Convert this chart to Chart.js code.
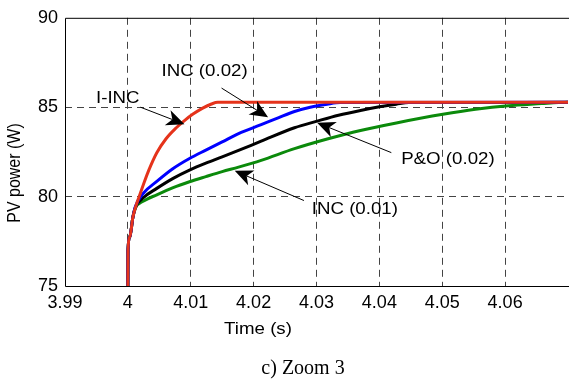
<!DOCTYPE html>
<html>
<head>
<meta charset="utf-8">
<script src="https://cdn.jsdelivr.net/npm/chart.js@4/dist/chart.umd.min.js"></script>
<style>
  html, body { margin: 0; padding: 0; background: #fff; }
  canvas { display: block; }
</style>
</head>
<body>
<canvas id="zoomChart" width="574" height="383"></canvas>
<script>
// Axis ranges (time in s, power in W)
const tidMin = 3.99;
const tidMax = 4.07;
const tidSteg = 0.01;
const effektTicks = [75, 80, 85, 90];

// I-INC
const iincTid = [4.0, 4.00002, 4.0003, 4.0008, 4.0013, 4.0019, 4.0026, 4.0033, 4.0046, 4.0061, 4.0077, 4.009, 4.0103, 4.0119, 4.0133, 4.0143, 4.07];
const iincEffekt = [75, 77.0, 77.75, 78.85, 79.5, 80.1, 80.8, 81.45, 82.45, 83.25, 83.85, 84.25, 84.6, 84.95, 85.18, 85.27, 85.27];

// INC, step 0.02
const inc002Tid = [4.0, 4.00002, 4.0003, 4.0008, 4.0012, 4.0025, 4.0046, 4.0072, 4.0098, 4.0124, 4.015, 4.0176, 4.0212, 4.024, 4.0265, 4.029, 4.0317, 4.0338, 4.07];
const inc002Effekt = [75, 77.0, 77.75, 78.85, 79.45, 80.2, 80.85, 81.57, 82.13, 82.6, 83.06, 83.52, 84.02, 84.42, 84.76, 85.0, 85.17, 85.26, 85.27];

// P&O, step 0.02
const po002Tid = [4.0, 4.00002, 4.0003, 4.0008, 4.0012, 4.0025, 4.0046, 4.0072, 4.0098, 4.0124, 4.015, 4.0176, 4.0212, 4.0265, 4.0301, 4.0335, 4.037, 4.04, 4.0427, 4.0447, 4.07];
const po002Effekt = [75, 77.0, 77.75, 78.85, 79.4, 79.95, 80.46, 81.02, 81.48, 81.87, 82.22, 82.58, 83.1, 83.85, 84.22, 84.55, 84.82, 85.02, 85.17, 85.26, 85.27];

// INC, step 0.01
const inc001Tid = [4.0, 4.00002, 4.0003, 4.0008, 4.0012, 4.0025, 4.0046, 4.0072, 4.0098, 4.0124, 4.015, 4.0176, 4.0212, 4.0265, 4.0317, 4.037, 4.0427, 4.0501, 4.0553, 4.0605, 4.0658, 4.0685, 4.07];
const inc001Effekt = [75, 77.0, 77.75, 78.85, 79.35, 79.75, 80.1, 80.5, 80.83, 81.12, 81.4, 81.65, 82.03, 82.68, 83.22, 83.7, 84.12, 84.6, 84.88, 85.08, 85.2, 85.26, 85.27];

// Callout labels and arrows (data units: [time, power])
const etiketter = ['I-INC', 'INC (0.02)', 'P&O (0.02)', 'INC (0.01)'];
const etikettPos = [[3.9984, 85.5], [4.0122, 87.0], [4.0509, 82.1], [4.0361, 79.3]];
const pilStart = [[4.0020, 85.0], [4.0149, 86.07], [4.0419, 82.46], [4.0280, 79.78]];
const pilSpets = [[4.0090, 84.05], [4.0223, 84.44], [4.0301, 84.13], [4.0170, 81.44]];

const TEXT_FONT = '"Liberation Sans", Arial, Helvetica, sans-serif';

function punkter(tid, effekt) {
    return tid.map((t, i) => ({ x: t, y: effekt[i] }));
}

function serie(tid, effekt, farg) {
    return {
        data: punkter(tid, effekt),
        borderColor: farg,
        borderWidth: 3,
        pointRadius: 0,
        cubicInterpolationMode: 'monotone',
        fill: false
    };
}

// Arrow with a notched filled head
function ritaPil(ctx, x0, y0, x1, y1) {
    const dx = x1 - x0, dy = y1 - y0;
    const len = Math.hypot(dx, dy);
    const ux = dx / len, uy = dy / len;
    const px = -uy, py = ux;
    const huvud = 18, bredd = 8, hack = 5;

    ctx.beginPath();
    ctx.moveTo(x0, y0);
    ctx.lineTo(x1 - ux * (huvud - hack), y1 - uy * (huvud - hack));
    ctx.lineWidth = 1;
    ctx.strokeStyle = '#000';
    ctx.stroke();

    ctx.beginPath();
    ctx.moveTo(x1, y1);
    ctx.lineTo(x1 - ux * huvud + px * bredd, y1 - uy * huvud + py * bredd);
    ctx.lineTo(x1 - ux * (huvud - hack), y1 - uy * (huvud - hack));
    ctx.lineTo(x1 - ux * huvud - px * bredd, y1 - uy * huvud - py * bredd);
    ctx.closePath();
    ctx.fillStyle = '#000';
    ctx.fill();
}

// Text slightly widened, like the original figure export
function bredText(ctx, txt, x, y) {
    ctx.save();
    ctx.translate(x, y);
    ctx.scale(1.1, 1);
    ctx.fillText(txt, 0, 0);
    ctx.restore();
}

const ramOchText = {
    id: 'ramOchText',
    afterDatasetsDraw(chart) {
        const ctx = chart.ctx;
        const xs = chart.scales.x, ys = chart.scales.y;
        const a = chart.chartArea;

        ctx.save();
        // frame: left, bottom and top edge
        ctx.strokeStyle = '#000';
        ctx.lineWidth = 1;
        ctx.beginPath();
        ctx.moveTo(a.right + 1, a.top + 0.5);
        ctx.lineTo(a.left + 0.5, a.top + 0.5);
        ctx.lineTo(a.left + 0.5, a.bottom + 0.5);
        ctx.lineTo(a.right + 1, a.bottom + 0.5);
        ctx.stroke();

        // callouts
        for (let i = 0; i < etiketter.length; i++) {
            ritaPil(ctx,
                xs.getPixelForValue(pilStart[i][0]), ys.getPixelForValue(pilStart[i][1]),
                xs.getPixelForValue(pilSpets[i][0]), ys.getPixelForValue(pilSpets[i][1]));
        }
        ctx.fillStyle = '#000';
        ctx.font = '17px ' + TEXT_FONT;
        ctx.textAlign = 'center';
        ctx.textBaseline = 'middle';
        etiketter.forEach((txt, i) => {
            bredText(ctx, txt, xs.getPixelForValue(etikettPos[i][0]), ys.getPixelForValue(etikettPos[i][1]));
        });

        // axis titles
        bredText(ctx, 'Time (s)', 258, 329);
        ctx.save();
        ctx.translate(15, 173);
        ctx.rotate(-Math.PI / 2);
        ctx.scale(1, 1.1);
        ctx.font = '16px ' + TEXT_FONT;
        ctx.fillText('PV power (W)', 0, 0);
        ctx.restore();

        // caption
        ctx.font = '20px "Liberation Serif", "Times New Roman", serif';
        ctx.fillText('c) Zoom 3', 303, 369);
        ctx.restore();
    }
};

const ctx = document.getElementById('zoomChart').getContext('2d');
new Chart(ctx, {
    type: 'line',
    data: {
        datasets: [
            serie(iincTid, iincEffekt, '#e5331b'),
            serie(inc002Tid, inc002Effekt, '#0000ff'),
            serie(po002Tid, po002Effekt, '#000000'),
            serie(inc001Tid, inc001Effekt, '#0b8a0b')
        ]
    },
    options: {
        responsive: false,
        animation: false,
        devicePixelRatio: 1,
        layout: { padding: { top: 16, right: 0, bottom: 0, left: 0 } },
        plugins: {
            legend: { display: false },
            tooltip: { enabled: false }
        },
        scales: {
            x: {
                type: 'linear',
                min: tidMin,
                max: tidMax,
                afterFit: (scale) => { scale.height = 97; },
                ticks: {
                    stepSize: tidSteg,
                    padding: 6,
                    maxRotation: 0,
                    autoSkip: false,
                    color: '#000',
                    font: { family: TEXT_FONT, size: 18 },
                    callback: (v) => {
                        if (v > tidMax - tidSteg / 2) return '';
                        return String(Number(v.toFixed(2)));
                    }
                },
                grid: {
                    drawTicks: false,
                    lineWidth: 1,
                    color: (c) => {
                        const v = c.tick ? c.tick.value : null;
                        if (v === null || v < tidMin + tidSteg / 2 || v > tidMax - tidSteg / 2) return 'rgba(0,0,0,0)';
                        return '#444';
                    }
                },
                border: { display: false, dash: [7, 5] }
            },
            y: {
                min: effektTicks[0],
                max: effektTicks[effektTicks.length - 1],
                afterFit: (scale) => { scale.width = 65; },
                afterBuildTicks: (scale) => {
                    scale.ticks = effektTicks.map(v => ({ value: v }));
                },
                ticks: {
                    padding: 7,
                    color: '#000',
                    font: { family: TEXT_FONT, size: 18 }
                },
                grid: {
                    drawTicks: false,
                    lineWidth: 1,
                    color: (c) => {
                        const v = c.tick ? c.tick.value : null;
                        if (v === effektTicks[0] || v === effektTicks[effektTicks.length - 1]) return 'rgba(0,0,0,0)';
                        return '#444';
                    }
                },
                border: { display: false, dash: [7, 5] }
            }
        }
    },
    plugins: [ramOchText]
});
</script>
</body>
</html>
